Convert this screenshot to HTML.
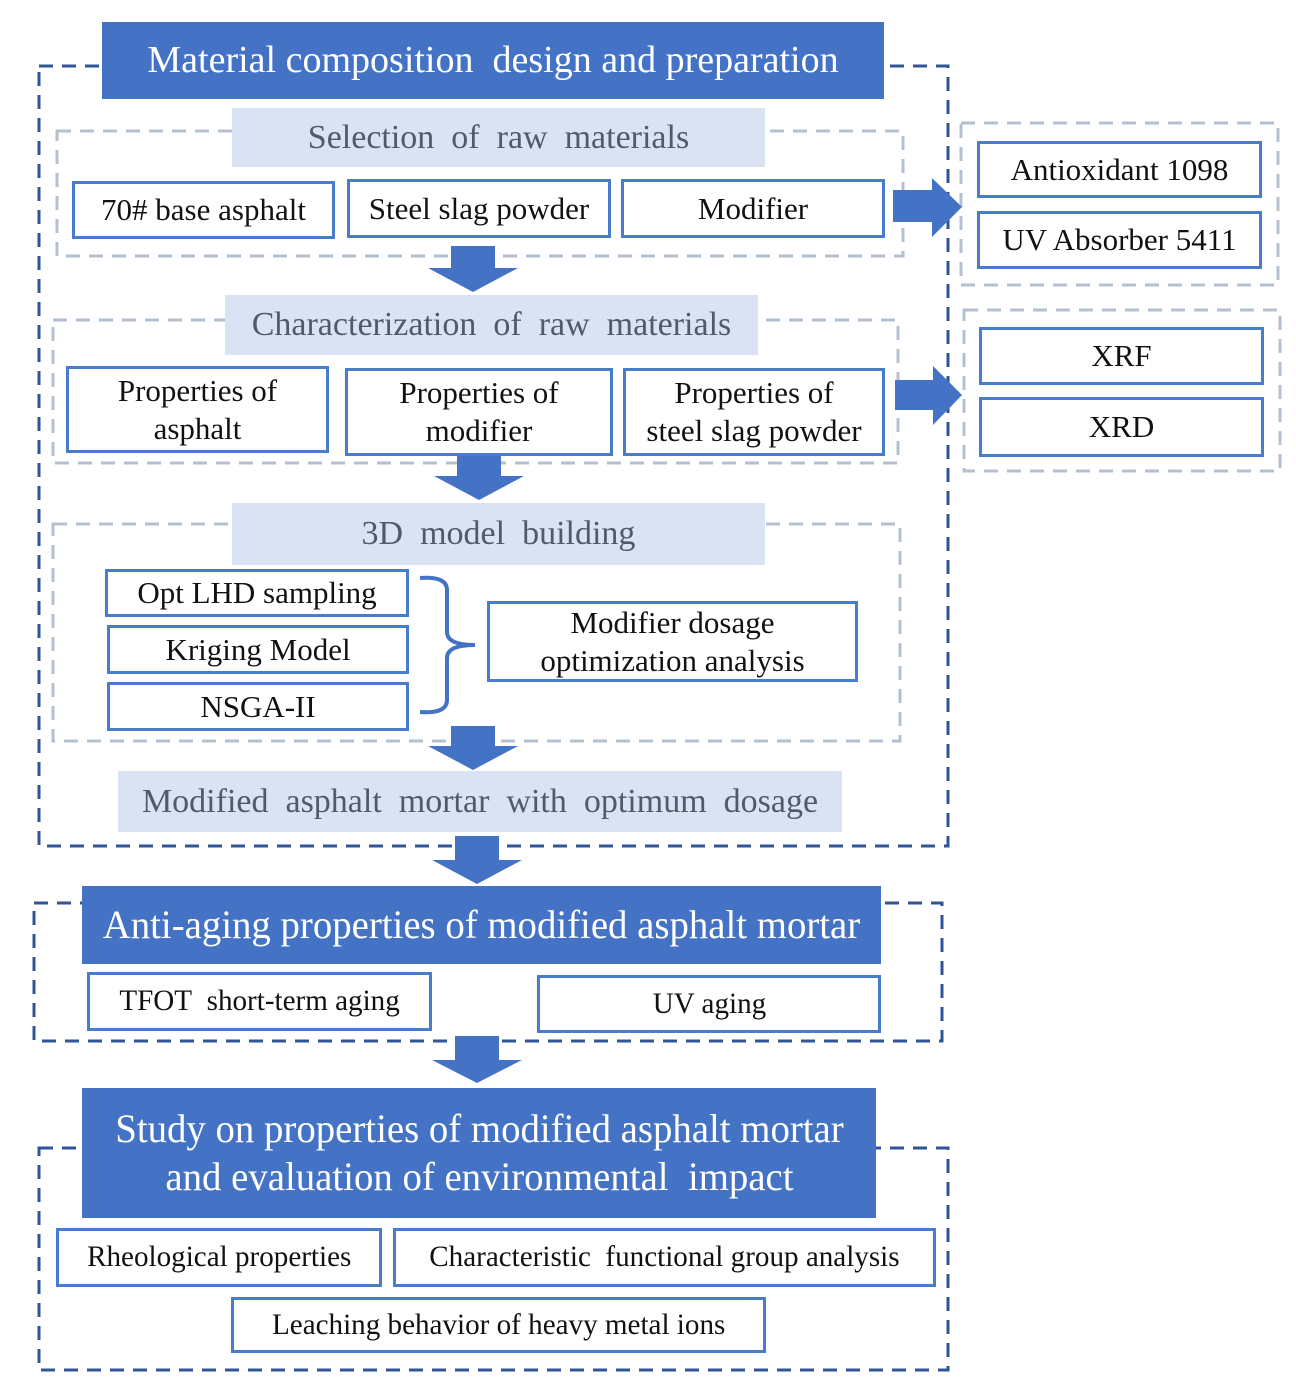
<!DOCTYPE html>
<html><head><meta charset="utf-8"><style>
body{margin:0;width:1296px;height:1393px;background:#fff;position:relative;overflow:hidden;font-family:"Liberation Serif",serif;}
.b{position:absolute;box-sizing:border-box;display:flex;align-items:center;justify-content:center;text-align:center;color:#111;font-size:31px;line-height:1.22;}
.w{background:#fff;border:3px solid #4a7ccc;}
.t{background:#4472c4;color:#fff;font-size:38px;}
.l{background:#dae3f3;color:#505a6a;font-size:34px;}
.c{display:inline-block;transform:scaleX(0.97);white-space:nowrap;}
svg{position:absolute;left:0;top:0;}
</style></head><body>
<svg width="1296" height="1393">
<g fill="none" stroke="#2f5597" stroke-width="3" stroke-dasharray="14,9">
<rect x="39" y="66" width="909" height="780"/>
<rect x="34" y="903" width="908" height="138"/>
<rect x="39" y="1148" width="909" height="222"/>
</g>
<g fill="none" stroke="#b4c0d2" stroke-width="3" stroke-dasharray="14,9">
<rect x="57" y="131" width="846" height="125"/>
<rect x="53" y="320" width="845" height="143"/>
<rect x="53" y="524" width="847" height="217"/>
<rect x="961" y="123" width="317" height="162"/>
<rect x="964" y="310" width="316" height="161"/>
</g>
<g fill="#4472c4">
<polygon points="893,190 932,190 932,178 962,207 932,237 932,222 893,222"/>
<polygon points="895,380 933,380 933,366 962,395 933,425 933,410 895,410"/>
<polygon points="451,246 495,246 495,268 518,268 473,292 428,268 451,268"/>
<polygon points="457,452 501,452 501,476 524,476 479,500 434,476 457,476"/>
<polygon points="451,726 495,726 495,746 518,746 473,770 428,746 451,746"/>
<polygon points="455,836 499,836 499,860 522,860 477,884 432,860 455,860"/>
<polygon points="455,1036 499,1036 499,1060 522,1060 477,1083 432,1060 455,1060"/>
</g>
<path d="M420,578 Q447,576 447,590 L447,632 Q447,645 475,645 Q447,645 447,658 L447,700 Q447,714 420,712" fill="none" stroke="#4472c4" stroke-width="4"/>
</svg>

<div class="b t" style="left:102px;top:22px;width:782px;height:77px">Material composition&nbsp; design and preparation</div>
<div class="b l" style="left:232px;top:108px;width:533px;height:59px">Selection&nbsp; of&nbsp; raw&nbsp; materials</div>
<div class="b w" style="left:72px;top:181px;width:263px;height:58px">70# base asphalt</div>
<div class="b w" style="left:347px;top:179px;width:264px;height:59px">Steel slag powder</div>
<div class="b w" style="left:621px;top:179px;width:264px;height:59px">Modifier</div>
<div class="b w" style="left:977px;top:141px;width:285px;height:57px">Antioxidant 1098</div>
<div class="b w" style="left:977px;top:211px;width:285px;height:58px">UV Absorber 5411</div>

<div class="b l" style="left:225px;top:295px;width:533px;height:60px">Characterization&nbsp; of&nbsp; raw&nbsp; materials</div>
<div class="b w" style="left:66px;top:366px;width:263px;height:87px">Properties of<br>asphalt</div>
<div class="b w" style="left:345px;top:368px;width:268px;height:88px">Properties of<br>modifier</div>
<div class="b w" style="left:623px;top:368px;width:262px;height:88px">Properties of<br>steel slag powder</div>
<div class="b w" style="left:979px;top:327px;width:285px;height:58px">XRF</div>
<div class="b w" style="left:979px;top:397px;width:285px;height:60px">XRD</div>

<div class="b l" style="left:232px;top:503px;width:533px;height:62px">3D&nbsp; model&nbsp; building</div>
<div class="b w" style="left:105px;top:569px;width:304px;height:48px">Opt LHD sampling</div>
<div class="b w" style="left:107px;top:625px;width:302px;height:49px">Kriging Model</div>
<div class="b w" style="left:107px;top:682px;width:302px;height:49px">NSGA-II</div>
<div class="b w" style="left:487px;top:601px;width:371px;height:81px">Modifier dosage<br>optimization analysis</div>

<div class="b l" style="left:118px;top:771px;width:724px;height:61px">Modified&nbsp; asphalt&nbsp; mortar&nbsp; with&nbsp; optimum&nbsp; dosage</div>

<div class="b t" style="left:82px;top:886px;width:799px;height:78px"><span class="c" style="font-size:40px">Anti-aging properties of modified asphalt mortar</span></div>
<div class="b w" style="left:87px;top:972px;width:345px;height:59px"><span class="c" style="font-size:30px">TFOT&nbsp; short-term aging</span></div>
<div class="b w" style="left:537px;top:975px;width:344px;height:58px"><span class="c" style="font-size:30px">UV aging</span></div>

<div class="b t" style="left:82px;top:1088px;width:794px;height:130px;line-height:1.2"><span class="c" style="font-size:40px">Study on properties of modified asphalt mortar<br>and evaluation of environmental&nbsp; impact</span></div>
<div class="b w" style="left:56px;top:1228px;width:326px;height:59px"><span class="c" style="font-size:30px">Rheological properties</span></div>
<div class="b w" style="left:393px;top:1228px;width:543px;height:59px"><span class="c" style="font-size:30px">Characteristic&nbsp; functional group analysis</span></div>
<div class="b w" style="left:231px;top:1297px;width:535px;height:56px"><span class="c" style="font-size:30px">Leaching behavior of heavy metal ions</span></div>
</body></html>
